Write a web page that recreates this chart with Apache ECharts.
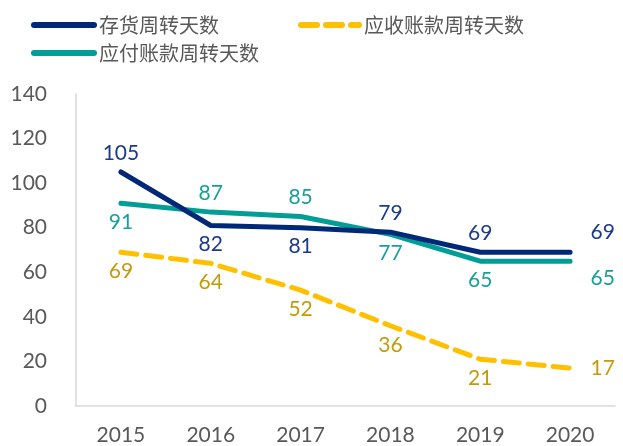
<!DOCTYPE html>
<html><head><meta charset="utf-8">
<script src="https://cdn.jsdelivr.net/npm/echarts@6/dist/echarts.min.js"></script>
<style>html,body{margin:0;padding:0;background:#fff}#c{width:623px;height:446px}</style>
</head><body><div id="c"></div>
<script>
const years = ['2015','2016','2017','2018','2019','2020'];
const inventoryDays = [105, 81, 80, 78, 69, 69];
const inventoryLabels = [105, 82, 81, 79, 69, 69];
const payableDays = [91, 87, 85, 77, 65, 65];
const receivableDays = [69, 64, 52, 36, 21, 17];
const yTicks = [0, 20, 40, 60, 80, 100, 120, 140];

const invPos = ['top','bottom','bottom','top','top','right'];
const payPos = ['bottom','top','top','bottom','bottom','right'];
const recPos = ['bottom','bottom','bottom','bottom','bottom','right'];

const numFont = 'Lato, "Liberation Sans", sans-serif';
function mk(vals, labels, pos, lastShift){
  return vals.map((v,i)=>({value:v, label:{position:pos[i], distance: pos[i]==='right'?20:8,
    offset: pos[i]==='right' ? [0, lastShift] : [0,0], formatter: String(labels[i])}}));
}
const chart = echarts.init(document.getElementById('c'));
const legendText = {fontFamily:'"Noto Sans CJK SC", sans-serif', fontSize:20, color:'#595959'};
const legCommon = {padding:0, itemHeight:10, itemStyle:{opacity:0}, lineStyle:{width:6, cap:'round'}, textStyle:legendText};
chart.setOption({
  animation:false,
  grid:{left:76, right:8, top:94, bottom:39},
  legend:[
    Object.assign({data:['存货周转天数'], left:31, top:15, itemWidth:60}, legCommon),
    Object.assign({data:['应收账款周转天数'], left:298, top:15, itemWidth:58}, legCommon),
    Object.assign({data:['应付账款周转天数'], left:31, top:43, itemWidth:60}, legCommon)
  ],
  xAxis:{type:'category', data:years, boundaryGap:true,
    axisLine:{lineStyle:{color:'#d9d9d9', width:1.5}}, axisTick:{show:false},
    axisLabel:{color:'#595959', fontSize:21, fontFamily:numFont, margin:19}},
  yAxis:{type:'value', min:0, max:140, interval:20,
    axisLine:{show:true, lineStyle:{color:'#d9d9d9', width:1.5}}, axisTick:{show:false}, splitLine:{show:false},
    axisLabel:{color:'#595959', fontSize:21, fontFamily:numFont, margin:29,
      formatter:v=>yTicks.includes(v)?String(v):''}},
  series:[
    {name:'存货周转天数', type:'line', data:mk(inventoryDays, inventoryLabels, invPos, -20), symbol:'circle', symbolSize:1, z:3,
      lineStyle:{color:'#002878', width:5, cap:'round'}, itemStyle:{color:'#002878'},
      label:{show:true, color:'#1b3a8c', fontSize:21, fontFamily:numFont}},
    {name:'应收账款周转天数', type:'line', data:mk(receivableDays, receivableDays, recPos, 0), symbol:'circle', symbolSize:1,
      lineStyle:{color:'#FFC000', width:5, type:[16,9], cap:'round'}, itemStyle:{color:'#FFC000'},
      label:{show:true, color:'#C59A0A', fontSize:21, fontFamily:numFont}},
    {name:'应付账款周转天数', type:'line', data:mk(payableDays, payableDays, payPos, 17), symbol:'circle', symbolSize:1, z:2,
      lineStyle:{color:'#009E97', width:5, cap:'round'}, itemStyle:{color:'#009E97'},
      label:{show:true, color:'#17A09B', fontSize:21, fontFamily:numFont}}
  ]
});
</script></body></html>
